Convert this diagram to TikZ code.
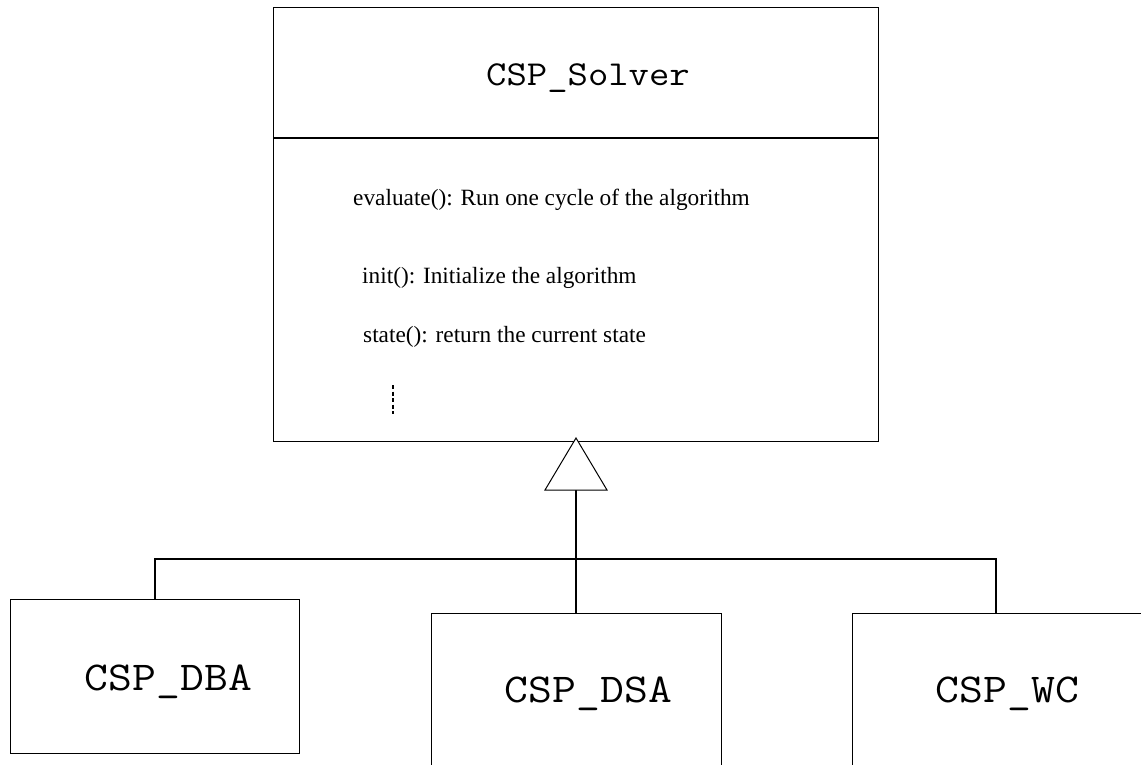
\documentclass[tikz,border=0pt]{standalone}
\usepackage{fontspec}
\setmainfont{Liberation Serif}
\begin{document}
\begin{tikzpicture}[x=1pt,y=-1pt,
  classbox/.style={draw=black,line width=1pt,rectangle,inner sep=0pt,outer sep=0pt},
  conn/.style={draw=black,line width=2pt},
  headtext/.style={inner sep=0pt,anchor=base,transform shape,xscale=1.13,font=\fontsize{35}{40}\ttfamily},
  subtext/.style={inner sep=0pt,anchor=base,transform shape,xscale=1.13,font=\fontsize{41}{46}\ttfamily},
  methodtext/.style={inner sep=0pt,anchor=base west,font=\fontsize{23.3}{27}\selectfont}]
\clip (0,0) rectangle (1141,764);
\fill[white] (0,0) rectangle (1141,764);

% abstract solver class
\node[classbox,minimum width=605pt,minimum height=434pt] (solver) at (575.5,224) {};
\coordinate (divL) at (273,138);
\coordinate (divR) at (878,138);
\draw[line width=2pt] (divL) -- (divR);
\node[headtext] (solvername) at (588,85) {CSP\_Solver};
\node[methodtext] (meval) at (353,205) {evaluate(): Run one cycle of the algorithm};
\node[methodtext] (minit) at (362,283) {init(): Initialize the algorithm};
\node[methodtext] (mstate) at (363,342) {state(): return the current state};
\coordinate (dotsTop) at (393,385);
\coordinate (dotsBot) at (393,414);
\draw[line width=1.5pt,dash pattern=on 4pt off 2.5pt] (dotsTop) -- (dotsBot);

% concrete solver classes
\node[classbox,minimum width=288.3pt,minimum height=154pt] (dba) at (154.85,676) {};
\node[classbox,minimum width=290pt,minimum height=200pt] (dsa) at (576,713) {};
\node[classbox,minimum width=300pt,minimum height=200pt] (wc) at (1002,713) {};
\node[subtext] (dbaname) at (168.5,690) {CSP\_DBA};
\node[subtext] (dsaname) at (588.5,702) {CSP\_DSA};
\node[subtext] (wcname) at (1007.5,702) {CSP\_WC};

% generalisation arrow and its tree of links
\coordinate (tip) at (576,438);
\coordinate (baseL) at (545,490);
\coordinate (baseR) at (607,490);
\coordinate (baseM) at (576,490);
\coordinate (wcdrop) at (996,559);
\draw[conn] (baseM) -- (dsa.north);
\draw[conn] (dba.north) |- (wcdrop) -- (wcdrop |- wc.north);
\draw[line width=1pt,fill=white,line join=miter] (tip) -- (baseL) -- (baseR) -- cycle;
\end{tikzpicture}
\end{document}
